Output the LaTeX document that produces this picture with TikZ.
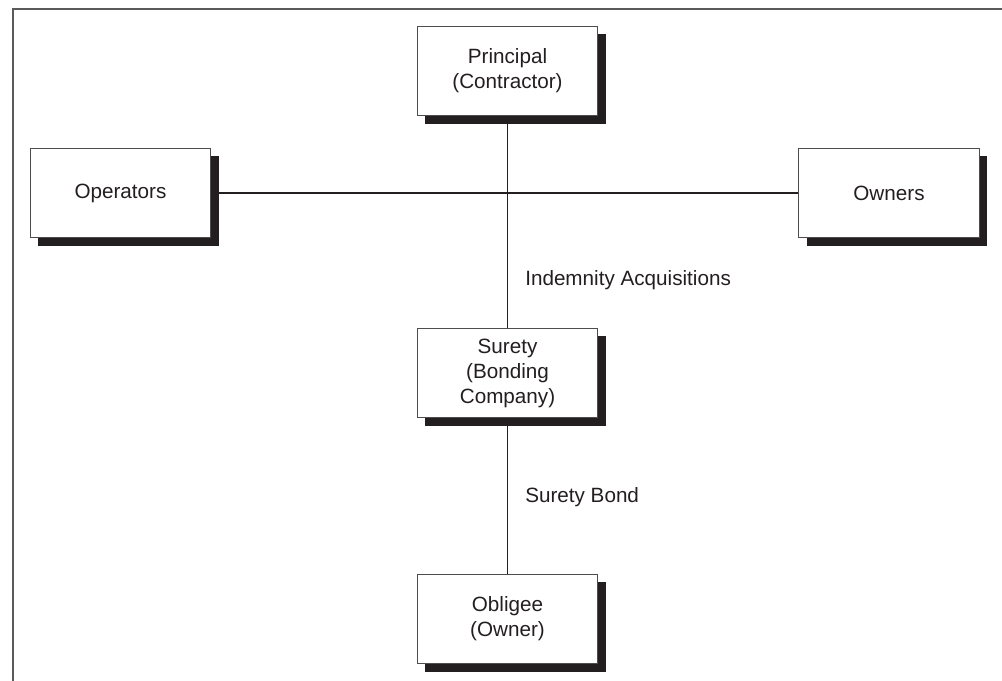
\documentclass[tikz,border=0pt]{standalone}
\usepackage{fontspec}
\setmainfont{Liberation Sans}
\usetikzlibrary{shadows,backgrounds}
\definecolor{ink}{RGB}{35,31,32}
\definecolor{rule}{RGB}{90,90,90}
\begin{document}
\begin{tikzpicture}[x=0.75pt,y=-0.75pt,
  party/.style={draw=ink!80, line width=0.7pt, fill=white,
    minimum width=135.5pt, minimum height=67pt, inner sep=0pt,
    align=center, text=ink, font=\fontsize{15.5}{18.8}\selectfont,
    drop shadow={shadow xshift=6pt, shadow yshift=-6pt, opacity=1, fill=ink}},
  tag/.style={anchor=west, inner sep=0pt, text=ink,
    font=\fontsize{15.5}{18.8}\selectfont},
  link/.style={draw=ink, line width=0.8pt}]
\useasboundingbox (0,0) rectangle (1002,681);
% open frame: top and left rules only
\coordinate (ftl) at (13,9);
\coordinate (ftr) at (1002,9);
\coordinate (fbl) at (13,681);
\draw[rule, line width=1.3pt] (fbl) -- (ftl) -- (ftr);

\node[party] (principal) at (507.5,71)  {Principal\\(Contractor)};
\node[party] (operators) at (120.5,193) {Operators};
\node[party] (owners)    at (889,193)   {Owners};
\node[party] (surety)    at (507.5,373) {Surety\\(Bonding\\Company)};
\node[party] (obligee)   at (507.5,619) {Obligee\\(Owner)};

\node[tag] (indemnity) at (525,280) {Indemnity Acquisitions};
\node[tag] (bond)      at (525,497) {Surety Bond};

\begin{scope}[on background layer]
  \draw[link] (operators.east) -- (owners.west);
  \draw[link] (principal.south) -- (surety.north);
  \draw[link] (surety.south) -- (obligee.north);
\end{scope}
\end{tikzpicture}
\end{document}
